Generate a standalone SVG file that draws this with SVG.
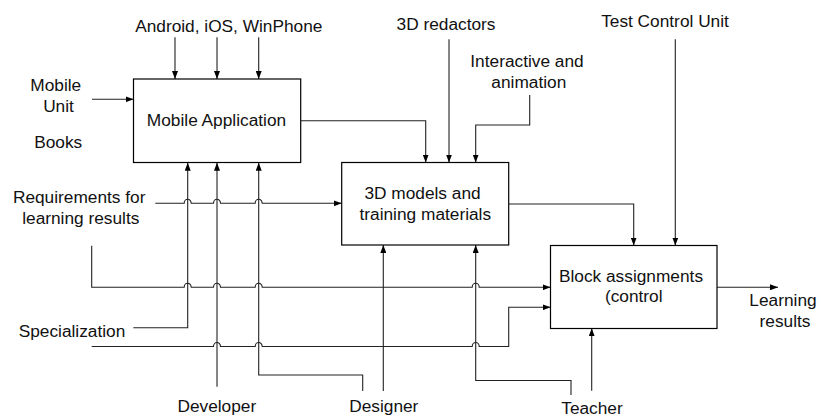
<svg xmlns="http://www.w3.org/2000/svg" width="819" height="417" viewBox="0 0 819 417">
<style>
  .box{fill:#fff;stroke:#000;stroke-width:1.2}
  .t{font-family:"Liberation Sans",Arial,sans-serif;font-size:17.3px;fill:#111;text-anchor:middle}
  .c{fill:none;stroke:#222;stroke-width:1.1}
  .a{marker-end:url(#arr)}
</style>
<defs>
  <marker id="arr" markerUnits="userSpaceOnUse" viewBox="0 0 8 6" markerWidth="8" markerHeight="6" refX="8" refY="3" orient="auto">
    <path d="M0,0 L8,3 L0,6 Z" fill="#000"/>
  </marker>
</defs>
<rect width="819" height="417" fill="#fff"/>

<g id="connectors">
  <path class="c a" d="M175,37.3 V79"/>
  <path class="c a" d="M217,37.3 V79"/>
  <path class="c a" d="M258.7,37.3 V79"/>
  <path class="c a" d="M92,99.3 H133.5"/>
  <path class="c a" d="M300.7,120.7 H425.7 V162.5"/>
  <path class="c a" d="M449,39.3 V162.5"/>
  <path class="c a" d="M529.7,95 V125 H475.7 V162.5"/>
  <path class="c a" d="M675.3,39.3 V245.5"/>
  <path class="c a" d="M508.7,204 H633.7 V245.5"/>
  <path class="c a" d="M155.3,203.3 H184.2 A3.5,4 0 0 1 191.2,203.3 H213.5 A3.5,4 0 0 1 220.5,203.3 H255.2 A3.5,4 0 0 1 262.2,203.3 H341.7"/>
  <path class="c a" d="M91.7,245.7 V287.3 H184.2 A3.5,4 0 0 1 191.2,287.3 H213.5 A3.5,4 0 0 1 220.5,287.3 H255.2 A3.5,4 0 0 1 262.2,287.3 H472.2 A3.5,4 0 0 1 479.2,287.3 H550.5"/>
  <path class="c a" d="M133.3,327.7 H187.7 V162.7"/>
  <path class="c a" d="M91.7,346.5 H213.5 A3.5,4 0 0 1 220.5,346.5 H255.2 A3.5,4 0 0 1 262.2,346.5 H472.2 A3.5,4 0 0 1 479.2,346.5 H508.7 V307.3 H550.5"/>
  <path class="c a" d="M217,386.7 V162.7"/>
  <path class="c a" d="M362.7,391 V375 H258.7 V162.7"/>
  <path class="c a" d="M383.3,391 V245"/>
  <path class="c a" d="M571,395 V380.5 H475.7 V245"/>
  <path class="c a" d="M591.7,390.7 V328.3"/>
  <path class="c a" d="M717,287.3 H778"/>
</g>

<g id="mobile-application">
  <rect class="box" x="133.5" y="79" width="167.2" height="83.5"/>
  <text class="t" x="216.5" y="126">Mobile Application</text>
</g>
<g id="models-materials">
  <rect class="box" x="341.7" y="162.5" width="167" height="82.5"/>
  <text class="t" x="422.5" y="198.7">3D models and</text>
  <text class="t" x="425.3" y="220">training materials</text>
</g>
<g id="block-assignments">
  <rect class="box" x="550.5" y="245.5" width="166.5" height="83"/>
  <text class="t" x="631" y="282.3">Block assignments</text>
  <text class="t" x="633.7" y="302.3">(control</text>
</g>

<g id="labels">
  <text class="t" x="228.8" y="32.3">Android, iOS, WinPhone</text>
  <text class="t" x="55.8" y="90.7">Mobile</text>
  <text class="t" x="58.5" y="111.7">Unit</text>
  <text class="t" x="58.2" y="147.7">Books</text>
  <text class="t" x="446" y="30">3D redactors</text>
  <text class="t" x="527" y="66.7">Interactive and</text>
  <text class="t" x="528.8" y="88.3">animation</text>
  <text class="t" x="665" y="26.7">Test Control Unit</text>
  <text class="t" x="79.2" y="203.3">Requirements for</text>
  <text class="t" x="80.8" y="224.3">learning results</text>
  <text class="t" x="72" y="337.3">Specialization</text>
  <text class="t" x="216.8" y="411.7">Developer</text>
  <text class="t" x="383.8" y="411.7">Designer</text>
  <text class="t" x="592" y="414">Teacher</text>
  <text class="t" x="783" y="306">Learning</text>
  <text class="t" x="785" y="326.7">results</text>
</g>
</svg>
